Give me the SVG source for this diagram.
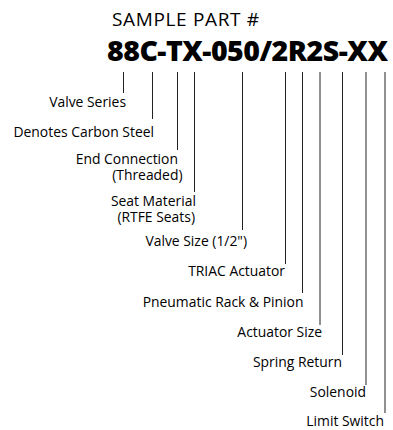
<svg xmlns="http://www.w3.org/2000/svg" width="393" height="430" viewBox="0 0 393 430">
<style>
.t{font-family:"Open Sans","Noto Sans","Liberation Sans",sans-serif;fill:#000;}
.lbl{font-size:13.9px;text-anchor:end;font-weight:500;}
.title{font-size:19px;}
.pn{font-size:28.5px;font-weight:800;}
.ln{stroke:#222;stroke-width:1;fill:none;}
</style>
<rect width="393" height="430" fill="#fff"/>
<g id="header">
<text class="t title" x="112" y="26" textLength="147">SAMPLE PART #</text>
<text class="t pn" x="107" y="60.5" textLength="281">88C-TX-050/2R2S-XX</text>
</g>
<g id="connectors">
<line class="ln" x1="123.5" y1="72" x2="123.5" y2="93"/>
<line class="ln" x1="152.5" y1="72" x2="152.5" y2="119"/>
<line class="ln" x1="177.5" y1="72" x2="177.5" y2="150"/>
<line class="ln" x1="194.5" y1="72" x2="194.5" y2="192"/>
<line class="ln" x1="242.5" y1="72" x2="242.5" y2="230"/>
<line class="ln" x1="285.5" y1="72" x2="285.5" y2="264"/>
<line class="ln" x1="302.5" y1="72" x2="302.5" y2="293"/>
<line class="ln" x1="320" y1="72" x2="320" y2="325"/>
<line class="ln" x1="342.5" y1="72" x2="342.5" y2="355"/>
<line class="ln" x1="366" y1="72" x2="366" y2="385"/>
<line class="ln" x1="385" y1="72" x2="385" y2="413"/>
</g>
<g id="valve-series"><text class="t lbl" x="126" y="106.5">Valve Series</text></g>
<g id="carbon-steel"><text class="t lbl" x="154" y="136.5">Denotes Carbon Steel</text></g>
<g id="end-connection"><text class="t lbl" y="163.5"><tspan x="178">End Connection</tspan><tspan x="182.5" dy="16.5">(Threaded)</tspan></text></g>
<g id="seat-material"><text class="t lbl" y="205.5"><tspan x="196">Seat Material</tspan><tspan x="195" dy="16">(RTFE Seats)</tspan></text></g>
<g id="valve-size"><text class="t lbl" x="247" y="246">Valve Size (1/2")</text></g>
<g id="triac-actuator"><text class="t lbl" x="285" y="276">TRIAC Actuator</text></g>
<g id="rack-pinion"><text class="t lbl" x="303.5" y="307">Pneumatic Rack &amp; Pinion</text></g>
<g id="actuator-size"><text class="t lbl" x="322" y="336.5">Actuator Size</text></g>
<g id="spring-return"><text class="t lbl" x="342" y="366.5">Spring Return</text></g>
<g id="solenoid"><text class="t lbl" x="366" y="396.5">Solenoid</text></g>
<g id="limit-switch"><text class="t lbl" x="384" y="425.5">Limit Switch</text></g>
</svg>
